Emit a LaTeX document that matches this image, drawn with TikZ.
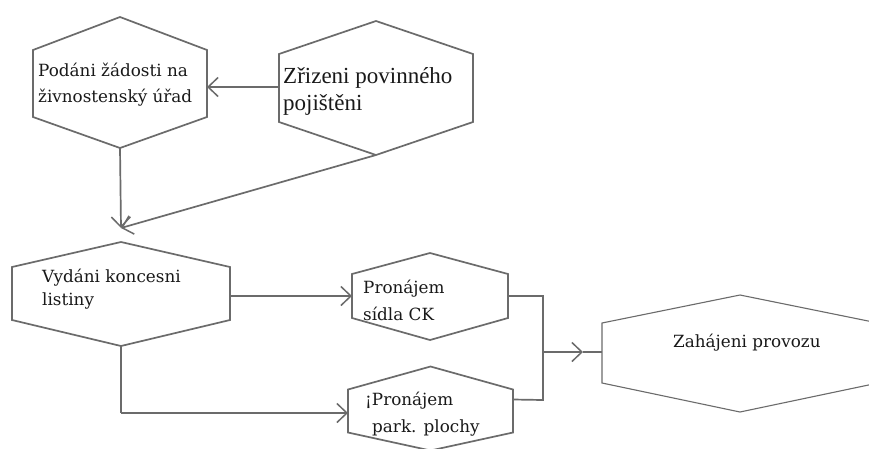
\documentclass[tikz,border=0pt]{standalone}
\usepackage{fontspec}
\setmainfont{DejaVu Serif}
\newfontfamily\timesf{Liberation Serif}
\usetikzlibrary{arrows.meta,calc}
\newcommand\hexpath[4]{%
  \draw[hexline,#4] (#1.north west) -- ($(#1.north)+(0,-#2)$) -- (#1.north east)
    -- (#1.south east) -- ($(#1.south)+(0,#3)$) -- (#1.south west) -- cycle;}
\begin{document}
\begin{tikzpicture}[x=1pt,y=-1pt,
  hexbox/.style={rectangle,draw=none,inner sep=0pt,outer sep=0pt},
  hexline/.style={draw=black!58,line width=1.7pt,line join=miter},
  conn/.style={draw=black!58,line width=1.7pt},
  arr/.style={conn,-{Straight Barb[length=10pt,width=19pt,line width=1.5pt]}},
  txt/.style={anchor=base west,inner sep=0pt,text=black!90,font=\fontsize{16.8}{20}\selectfont},
  txtT/.style={anchor=base west,inner sep=0pt,text=black!90,font=\timesf\fontsize{23}{26}\selectfont}]
\useasboundingbox (0,0) rectangle (869,448);
\fill[white] (0,0) rectangle (869,448);

% hexagon boxes
\node[hexbox,minimum width=174pt,minimum height=67pt] (h1) at (120,83.5) {};
\node[hexbox,minimum width=194pt,minimum height=68pt] (h2) at (376,88) {};
\node[hexbox,minimum width=218pt,minimum height=53pt] (h3) at (121,293.5) {};
\node[hexbox,minimum width=156pt,minimum height=44pt] (h4) at (430,296) {};
\node[hexbox,minimum width=165pt,minimum height=43pt] (h5) at (430.5,411) {};
\node[hexbox,minimum width=276pt,minimum height=60pt] (h6) at (740,353) {};

\hexpath{h1}{33}{31}{}
\hexpath{h2}{33}{33}{}
\hexpath{h3}{25}{26}{}
\hexpath{h4}{21}{22}{}
\hexpath{h5}{23}{18}{}
\hexpath{h6}{28}{29}{line width=1.1pt}

% texts
\node[txt] (t1a) at (38,76) {Podáni žádosti na};
\node[txt] (t1b) at (38,102) {živnostenský úřad};
\node[txtT] (t2a) at (283,83) {Zřizeni povinného};
\node[txtT] (t2b) at (283,110) {pojištěni};
\node[txt] (t3a) at (42,282) {Vydáni koncesni};
\node[txt] (t3b) at (42,305) {listiny};
\node[txt] (t4a) at (363,293) {Pronájem};
\node[txt] (t4b) at (363,320) {sídla CK};
\node[txt] (t5a) at (365,405) {¡Pronájem};
\node[txt] (t5b) at (372,432) {park. plochy};
\node[txt] (t6) at (673,347) {Zahájeni provozu};

% connector points
\coordinate (c1) at (121,228);
\coordinate (b1) at ($(h1.south)+(0,31)$);
\coordinate (b2) at ($(h2.south)+(0,33)$);
\coordinate (b3) at ($(h3.south)+(0,26)$);
\coordinate (k3) at (121,413);
\coordinate (e5) at ($(h5.north east)+(0,10)$);
\coordinate (jt) at (543,296);
\coordinate (jb) at (543,400);
\coordinate (jm) at (543,352);
\coordinate (a6) at (583,352);

% connectors
\draw[arr] (h2.west |- 0,87) -- (h1.east |- 0,87);
\draw[arr] (b1) -- (c1);
\draw[arr] (b2) -- (c1);
\draw[arr] (h3.east |- 0,296) -- (h4.west |- 0,296);
\draw[conn] (b3) -- (k3);
\draw[arr] (k3) -- (h5.west |- k3);
\draw[conn] (h4.east |- jt) -- (jt) -- (jb) -- (e5);
\draw[arr] (jm) -- (a6);
\draw[conn,line width=1.1pt] (a6) -- (h6.west |- a6);
\end{tikzpicture}
\end{document}
